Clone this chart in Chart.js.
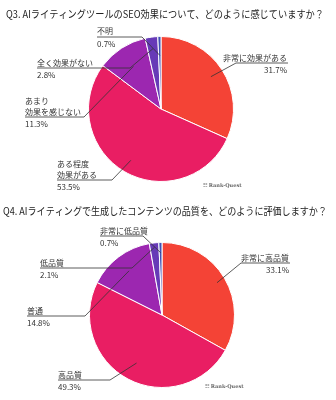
<!DOCTYPE html>
<html>
<head>
<meta charset="utf-8">
<script src="https://cdn.jsdelivr.net/npm/chart.js@4"></script>
<style>
html,body{margin:0;padding:0;background:#fff;}
canvas{display:block;}
</style>
</head>
<body>
<canvas id="c1" width="336" height="200"></canvas>
<canvas id="c2" width="336" height="200"></canvas>
<script>
// ---- data ----
const q3Title = 'Q3. AIライティングツールのSEO効果について、どのように感じていますか？';
const q3Categories = ['非常に効果がある', 'ある程度\n効果がある', 'あまり\n効果を感じない', '全く効果がない', '不明'];
const q3Values = [31.7, 53.5, 11.3, 2.8, 0.7];

const q4Title = 'Q4. AIライティングで生成したコンテンツの品質を、どのように評価しますか？';
const q4Categories = ['非常に高品質', '高品質', '普通', '低品質', '非常に低品質'];
const q4Values = [33.1, 49.3, 14.8, 2.1, 0.7];

const sliceColors = ['#F44336', '#E91E63', '#9C27B0', '#673AB7', '#3F51B5'];
const watermark = 'Rank-Quest';

// ---- layout (label placement, in canvas coordinates) ----
const q3Layout = [
  {align:'right', x:287, y:58, uy:63, jx:236, rf:0.82},
  {align:'left',  x:57,  y:164, uy:180, jx:112, rf:0.82},
  {align:'left',  x:25,  y:101, uy:117, jx:84,  rf:0.70},
  {align:'left',  x:37,  y:63,  uy:68,  jx:130, rf:0.84},
  {align:'left',  x:97,  y:31,  uy:37,  jx:142, rf:0.74}
];
const q4Layout = [
  {align:'right', x:289, y:58,  uy:63,  jx:241, rf:0.88},
  {align:'left',  x:58,  y:175, uy:180, jx:110, rf:0.75},
  {align:'left',  x:27,  y:111, uy:116, jx:85,  rf:0.76},
  {align:'left',  x:40,  y:63,  uy:68,  jx:132, rf:0.94},
  {align:'left',  x:100, y:31,  uy:36,  jx:143, rf:0.86}
];

const FONT = '"Noto Sans CJK JP", "Noto Sans", sans-serif';

const leaderPlugin = {
  id: 'leaderLabels',
  afterDraw(chart, args, opts) {
    const ctx = chart.ctx;
    const meta = chart.getDatasetMeta(0);
    const ds = chart.data.datasets[0];
    ctx.save();
    // title
    ctx.fillStyle = '#222';
    ctx.font = '10.5px ' + FONT;
    ctx.textBaseline = 'middle';
    ctx.textAlign = 'left';
    const tw = ctx.measureText(opts.title).width;
    const sx = opts.titleW / tw;
    ctx.save();
    ctx.translate(opts.titleX, opts.titleY);
    ctx.scale(sx, 1);
    ctx.fillText(opts.title, 0, 0);
    ctx.restore();

    ctx.font = '8px ' + FONT;
    ctx.strokeStyle = '#333';
    ctx.lineWidth = 0.8;
    meta.data.forEach((arc, i) => {
      const L = opts.layout[i];
      const p = arc.getProps(['x','y','startAngle','endAngle','outerRadius'], true);
      const mid = (p.startAngle + p.endAngle) / 2;
      const r = p.outerRadius * L.rf;
      const ex = p.x + Math.cos(mid) * r;
      const ey = p.y + Math.sin(mid) * r;
      const lines = chart.data.labels[i].split('\n');
      ctx.fillStyle = '#333';
      ctx.textAlign = L.align;
      ctx.textBaseline = 'middle';
      let yy = L.y;
      lines.forEach((ln, k) => {
        ctx.fillText(ln, L.x, yy);
        yy += 11;
      });
      ctx.fillText(ds.data[i].toFixed(1) + '%', L.x, L.uy + 7);
      // underline + leader
      ctx.beginPath();
      if (L.align === 'left') {
        ctx.moveTo(L.x, L.uy);
      } else {
        ctx.moveTo(L.x + 1, L.uy);
      }
      ctx.lineTo(L.jx, L.uy);
      ctx.lineTo(ex, ey);
      ctx.stroke();
    });
    // watermark
    ctx.fillStyle = '#666';
    ctx.font = 'bold 5px "DejaVu Serif", serif';
    ctx.textAlign = 'left';
    ctx.fillText('\u2637 ' + watermark, opts.wmX, opts.wmY);
    ctx.restore();
  }
};

function makePie(id, cats, vals, pad, plug) {
  return new Chart(document.getElementById(id), {
    type: 'pie',
    data: {
      labels: cats,
      datasets: [{
        data: vals,
        backgroundColor: sliceColors,
        borderColor: '#ffffff',
        borderWidth: 1,
        hoverOffset: 0
      }]
    },
    options: {
      responsive: false,
      animation: false,
      layout: { padding: pad },
      plugins: {
        legend: { display: false },
        tooltip: { enabled: false },
        leaderLabels: plug
      }
    },
    plugins: [leaderPlugin]
  });
}

makePie('c1', q3Categories, q3Values,
  {left:88, right:102, top:36, bottom:18},
  {title:q3Title, titleX:6, titleY:14, titleW:318, layout:q3Layout, wmX:203, wmY:186});
makePie('c2', q4Categories, q4Values,
  {left:89, right:101, top:42, bottom:12},
  {title:q4Title, titleX:3, titleY:11, titleW:324, layout:q4Layout, wmX:205, wmY:187});
</script>
</body>
</html>
